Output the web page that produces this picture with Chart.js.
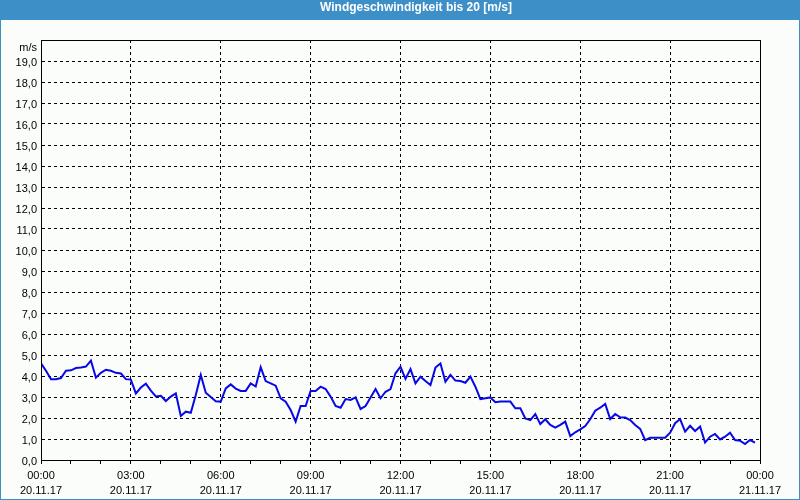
<!DOCTYPE html>
<html>
<head>
<meta charset="utf-8">
<script src="https://cdn.jsdelivr.net/npm/chart.js@4"></script>
<style>
  html, body { margin: 0; padding: 0; background: #fbfdfb; }
  #wrap { width: 800px; height: 500px; position: relative; }
  #title {
    position: absolute; left: 16px; top: 0; width: 800px; height: 20px;
    line-height: 19px; text-align: center; color: #fff;
    font: bold 12px "Liberation Sans", Arial, sans-serif;
  }
  canvas { position: absolute; left: 0; top: 0; }
</style>
</head>
<body>
<div id="wrap"><canvas id="c" width="800" height="500"></canvas><div id="title"></div></div>
<script>
// ---- data (10-minute samples, 20.11.17 00:00 .. 23:50) ----
const chartTitle = 'Windgeschwindigkeit bis 20 [m/s]';
const yUnit = 'm/s';
const sampleMinutes = 10;
const windSpeed = [
  4.60, 4.25, 3.85, 3.85, 3.90, 4.25, 4.27, 4.38, 4.40, 4.45, 4.73, 3.92,
  4.15, 4.30, 4.25, 4.15, 4.12, 3.85, 3.83, 3.17, 3.45, 3.63, 3.30, 3.03,
  3.06, 2.81, 3.02, 3.17, 2.10, 2.30, 2.25, 3.10, 4.05, 3.20, 3.00, 2.80,
  2.78, 3.41, 3.60, 3.40, 3.29, 3.29, 3.65, 3.50, 4.42, 3.76, 3.65, 3.54,
  2.94, 2.78, 2.38, 1.83, 2.57, 2.57, 3.29, 3.29, 3.49, 3.38, 3.02, 2.57,
  2.49, 2.90, 2.86, 2.98, 2.43, 2.57, 2.98, 3.38, 2.94, 3.25, 3.38, 4.13,
  4.44, 3.86, 4.33, 3.65, 3.97, 3.76, 3.57, 4.40, 4.60, 3.73, 4.05, 3.78,
  3.76, 3.68, 3.97, 3.49, 2.90, 2.94, 2.98, 2.75, 2.78, 2.78, 2.78, 2.46,
  2.46, 1.98, 1.90, 2.19, 1.71, 1.94, 1.67, 1.54, 1.67, 1.83, 1.14, 1.32,
  1.46, 1.62, 1.94, 2.35, 2.49, 2.67, 1.95, 2.19, 2.03, 2.02, 1.90, 1.67,
  1.48, 0.95, 1.06, 1.06, 1.06, 1.06, 1.30, 1.75, 1.95, 1.35, 1.63, 1.38,
  1.59, 0.83, 1.11, 1.24, 0.98, 1.11, 1.30, 0.95, 0.92, 0.76, 0.95, 0.83
];
const timeTickLabels = ['00:00', '03:00', '06:00', '09:00', '12:00', '15:00', '18:00', '21:00', '00:00'];
const dateTickLabels = ['20.11.17', '20.11.17', '20.11.17', '20.11.17', '20.11.17', '20.11.17', '20.11.17', '20.11.17', '21.11.17'];
const hoursPerLabel = 3;

document.getElementById('title').textContent = chartTitle;

// ---- build points (hours since start) ----
const points = windSpeed.map((v, i) => ({ x: i * sampleMinutes / 60, y: v }));

const FONT = 'Liberation Sans, Arial, sans-serif';
const BLUE = 'rgb(61,143,199)';

const framePlugin = {
  id: 'frame',
  beforeDraw(chart) {
    const { ctx, width, height } = chart;
    ctx.save();
    ctx.fillStyle = '#fbfdfb';
    ctx.fillRect(0, 0, width, height);
    ctx.fillStyle = BLUE;
    ctx.fillRect(0, 0, width, 20);
    ctx.fillRect(0, 0, 1, height);
    ctx.fillRect(width - 1, 0, 1, height);
    ctx.fillRect(0, height - 1, width, 1);
    ctx.restore();
  },
  afterDatasetsDraw(chart) {
    const { ctx, chartArea: a } = chart;
    ctx.save();
    ctx.strokeStyle = '#000';
    ctx.lineWidth = 1;
    ctx.setLineDash([]);
    ctx.strokeRect(Math.round(a.left) + 0.5, Math.round(a.top) + 0.5,
      Math.round(a.right - a.left), Math.round(a.bottom - a.top));
    ctx.restore();
  }
};

new Chart(document.getElementById('c'), {
  type: 'line',
  data: {
    datasets: [{
      data: points,
      borderColor: 'rgb(8,8,230)',
      borderWidth: 2,
      pointRadius: 0,
      tension: 0,
      fill: false
    }]
  },
  options: {
    responsive: false,
    animation: false,
    layout: { padding: { left: 0, right: 40, top: 40, bottom: 0 } },
    plugins: {
      legend: { display: false },
      tooltip: { enabled: false },
      title: { display: false }
    },
    scales: {
      x: {
        type: 'linear',
        min: 0,
        max: 24,
        ticks: {
          stepSize: 1,
          autoSkip: false,
          maxRotation: 0,
          color: '#000',
          padding: 4,
          font: { family: FONT, size: 11, lineHeight: 1.4 },
          callback: (v) => (v % hoursPerLabel === 0)
            ? [timeTickLabels[v / hoursPerLabel], dateTickLabels[v / hoursPerLabel]] : ''
        },
        grid: {
          color: (c) => (c.tick && c.tick.value % hoursPerLabel === 0) ? '#000' : 'rgba(0,0,0,0)',
          lineWidth: 1,
          tickColor: '#000',
          tickLength: 4,
          drawTicks: true
        },
        border: { display: true, color: '#000', dash: [3, 3] },
        afterFit: (s) => { s.height = 40; }
      },
      y: {
        min: 0,
        max: 20,
        ticks: {
          stepSize: 1,
          autoSkip: false,
          color: '#000',
          padding: 4,
          labelOffset: 2,
          font: { family: FONT, size: 11, lineHeight: 1.1 },
          callback: (v) => v === 20 ? ['', yUnit] : v.toFixed(1).replace('.', ',')
        },
        grid: { color: '#000', lineWidth: 1, drawTicks: false },
        border: { display: true, color: '#000', dash: [3, 3] },
        afterFit: (s) => { s.width = 41; }
      }
    }
  },
  plugins: [framePlugin]
});
</script>
</body>
</html>
